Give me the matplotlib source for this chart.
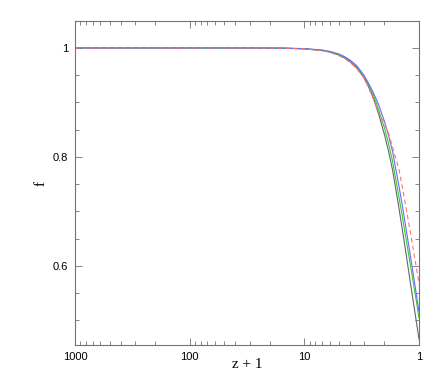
import matplotlib
matplotlib.use("Agg")
import matplotlib.pyplot as plt
from matplotlib.ticker import FixedLocator, MultipleLocator, NullFormatter

# z+1 sample points and f
zp1 = [1000, 100, 30, 20, 15, 10, 7, 6, 5, 4.5, 4, 3.5, 3.25, 3, 2.75, 2.5,
       2.25, 2, 1.85, 1.7, 1.5, 1.4, 1.3, 1.2, 1.1, 1.05, 1.0]
f_black = [1.0, 1.0, 1.0, 0.9998, 0.9995, 0.9984, 0.9952, 0.9925, 0.987,
           0.9823, 0.975, 0.9635, 0.955, 0.944, 0.9286, 0.908, 0.879, 0.841,
           0.812, 0.776, 0.708, 0.668, 0.624, 0.575, 0.523, 0.495, 0.466]
f_green = [1.0, 1.0, 1.0, 0.9998, 0.9996, 0.9986, 0.9958, 0.9932, 0.988,
           0.9838, 0.977, 0.9665, 0.9575, 0.947, 0.9325, 0.914, 0.887, 0.853,
           0.826, 0.792, 0.728, 0.692, 0.651, 0.607, 0.559, 0.533, 0.505]
f_blue = [1.0, 1.0, 1.0, 0.9999, 0.9997, 0.9988, 0.9962, 0.9937, 0.989,
          0.9845, 0.978, 0.9675, 0.959, 0.949, 0.935, 0.918, 0.896, 0.865,
          0.841, 0.810, 0.748, 0.712, 0.670, 0.624, 0.573, 0.545, 0.516]
f_red = [1.0, 1.0, 1.0, 0.9998, 0.9995, 0.9984, 0.995, 0.9922, 0.986,
         0.981, 0.974, 0.962, 0.954, 0.944, 0.927, 0.906, 0.882, 0.860,
         0.845, 0.818, 0.779, 0.746, 0.708, 0.667, 0.620, 0.595, 0.569]

fig = plt.figure(figsize=(4.43, 3.88), dpi=100)
ax = fig.add_axes([0.1693, 0.1108, 0.7765, 0.8351])

lw = 0.8
ax.plot(zp1, f_black, color='0.4', lw=lw)
ax.plot(zp1, f_green, color='#33cc33', lw=lw)
ax.plot(zp1, f_blue, color='#6a6aff', lw=lw)
ax.plot(zp1, f_red, color='#ff7070', lw=lw, ls=(0, (4, 3)))

ax.set_xscale('log')
ax.set_xlim(1000, 1)
ax.set_ylim(0.455, 1.0495)

ax.xaxis.set_major_locator(FixedLocator([1000, 100, 10, 1]))
ax.set_xticklabels(['1000', '100', '10', '1'])
ax.xaxis.set_minor_formatter(NullFormatter())
ax.yaxis.set_major_locator(FixedLocator([0.6, 0.8, 1.0]))
ax.set_yticklabels(['0.6', '0.8', '1'])
ax.yaxis.set_minor_locator(MultipleLocator(0.05))

for sp in ax.spines.values():
    sp.set_color('0.45')
    sp.set_linewidth(0.8)
ax.tick_params(which='both', direction='in', top=True, right=True,
               color='0.45', width=0.6, labelsize=8, pad=5)
ax.tick_params(which='major', length=5)
ax.tick_params(which='minor', length=3)
for lab in ax.get_xticklabels() + ax.get_yticklabels():
    lab.set_fontfamily('Liberation Sans')

ax.set_xlabel('z + 1', family='Liberation Serif', fontsize=11, labelpad=-2.5)
ax.set_ylabel('f', family='Liberation Serif', fontsize=11, labelpad=4)

fig.savefig('out.png', dpi=100)
